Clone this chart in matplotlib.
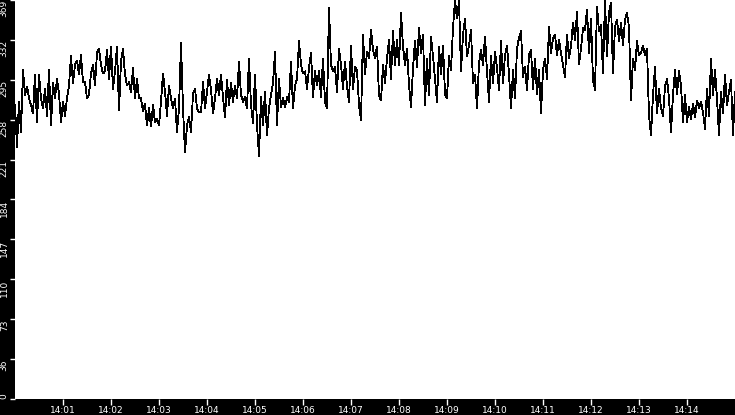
import numpy as np
import pandas as pd
import matplotlib
matplotlib.use("Agg")
import matplotlib.pyplot as plt
import matplotlib.dates as mdates

# readings every 2.5 s, 14:00:00 - 14:15:00
seg_a = [272, 233, 275, 247, 304, 281, 289, 278, 272, 264,
         300, 256, 300, 278, 269, 287, 262, 304, 253, 292,
         278, 296, 282, 256, 275, 262, 278, 290, 317, 292,
         309, 313, 300, 318, 293, 293, 278, 282, 301, 309,
         290, 320, 324, 309, 301, 303, 323, 296, 326, 287,
         303, 326, 267, 312, 324, 300, 290, 293, 284, 306,
         278, 296, 278, 278, 266, 273, 253, 269, 252, 272,
         256, 259, 253, 275, 301, 284, 262, 290, 278, 269,
         278, 247, 269, 329, 269, 228, 253, 261, 247, 282,
         287, 269, 265]
seg_b = [265, 293, 269, 284, 300, 286, 264, 278, 296, 281,
         300, 279, 261, 295, 272, 292, 275, 290, 278, 312,
         281, 275, 279, 269, 315, 272, 255, 300, 253, 225,
         279, 253, 284, 244, 269, 281, 292, 321, 253, 296,
         270, 278, 270, 279, 275, 312, 269, 290, 296, 331,
         309, 301, 303, 287, 306]
seg_c = [320, 279, 303, 290, 303, 279, 315, 275, 269, 362,
         309, 303, 307, 284, 324, 309, 287, 312, 289, 275,
         327, 287, 307, 304, 272, 258, 337, 300, 321, 315,
         341, 323, 315, 326, 281, 276, 309, 292, 315, 332,
         296, 340, 309, 332, 309, 357, 326, 309, 324, 290,
         270, 306, 331, 307, 343]
seg_d = [320, 337, 272, 315, 281, 335, 317, 296, 275, 326,
         300, 327, 282, 278, 317, 304, 343, 369, 352, 368,
         303, 337, 352, 317, 327, 341, 292, 300, 269, 310,
         323, 309, 335, 303, 275, 317, 292, 321, 306, 286,
         331, 292, 318, 327, 300, 269, 304, 278, 324, 334,
         340, 298, 307, 286, 318]
seg_e = [323, 287, 315, 282, 304, 264, 304, 315, 296, 344,
         320, 334, 337, 318, 332, 320, 309, 298, 337, 315,
         326, 348, 332, 358, 310, 324, 343, 341, 360, 320,
         352, 295, 286, 363, 340, 346, 301, 369, 317, 358,
         366, 301, 344, 351, 331, 348, 327, 351, 357, 344,
         276, 315, 304, 331, 318]
seg_f = [320, 327, 318, 324, 262, 244, 281, 307, 264, 287,
         269, 262, 289, 296, 278, 247, 281, 304, 282, 303,
         290, 256, 281, 256, 270, 259, 273, 261, 276, 269,
         275, 265, 250, 287, 262, 315, 281, 304, 278, 244,
         284, 264, 300, 272, 284, 295, 244, 284]

y_ticks = [0, 36.9, 73.8, 110.7, 147.6, 184.5, 221.4, 258.3, 295.2, 332.1, 369]
y_labels = ["0", "36", "73", "110", "147", "184", "221", "258", "295", "332", "369"]

values = seg_a + seg_b + seg_c + seg_d + seg_e + seg_f
times = pd.date_range("2024-01-01 14:00:00", periods=len(values), freq="2500ms")

fig = plt.figure(figsize=(7.35, 4.15), dpi=100, facecolor="black")
ax = fig.add_axes([15 / 735, 16 / 415, 720 / 735, 399 / 415])
ax.set_facecolor("white")
ax.plot(times, values, color="black", lw=0.6, antialiased=False)

ax.set_xlim(pd.Timestamp("2024-01-01 14:00:00"), pd.Timestamp("2024-01-01 14:15:00"))
ax.set_ylim(0, 369)
for s in ax.spines.values():
    s.set_visible(False)

ax.xaxis.set_major_locator(mdates.MinuteLocator(byminute=range(1, 15)))
ax.xaxis.set_major_formatter(mdates.DateFormatter("%H:%M"))
ax.set_yticks(y_ticks)
ax.set_yticklabels(y_labels, rotation=90, va="top")
ax.get_yticklabels()[0].set_va("bottom")

ax.tick_params(colors="white", labelcolor="white", width=1, labelsize=6.5)
ax.tick_params(axis="x", length=4, pad=1)
ax.tick_params(axis="y", length=3.5, pad=1)

fig.savefig("out.png", dpi=100, facecolor="black")
